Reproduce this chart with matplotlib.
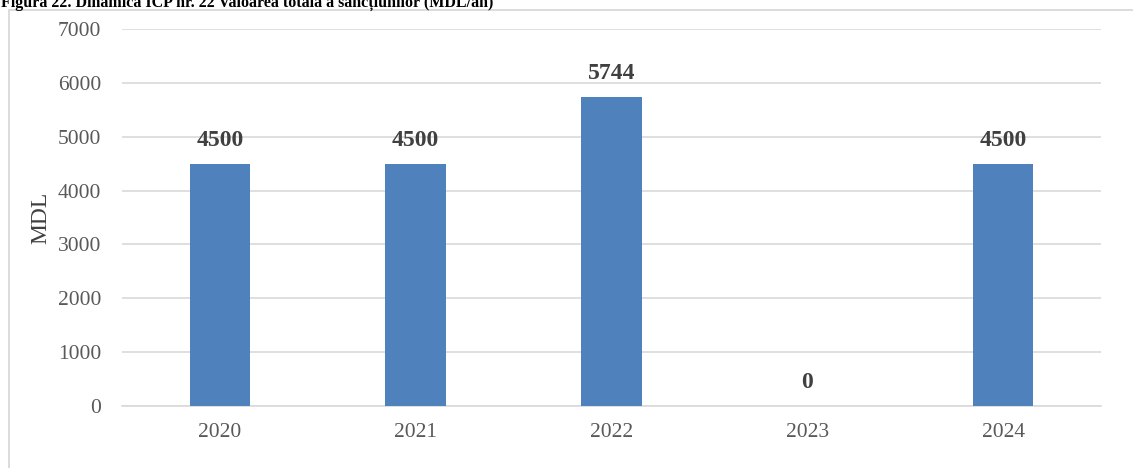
import matplotlib
matplotlib.use("Agg")
import matplotlib.pyplot as plt
import matplotlib.patches as patches

plt.rcParams['font.family'] = ['Liberation Serif', 'DejaVu Serif']

# values of indicator no. 22 per year
years = ["2020", "2021", "2022", "2023", "2024"]
amounts = [4500, 4500, 5744, 0, 4500]
y_ticks = [0, 1000, 2000, 3000, 4000, 5000, 6000, 7000]

W, H = 1133, 468
fig = plt.figure(figsize=(W / 100, H / 100), dpi=100)

# light frame around the chart area, running off the right and bottom edges
frame = patches.Rectangle((9 / W, -0.05), 1.2, (H - 10) / H + 0.05,
                          transform=fig.transFigure, fill=False,
                          edgecolor='#d9d9d9', linewidth=1.3)
fig.patches.append(frame)

ax = fig.add_axes([122 / W, 1 - 406 / H, (1101 - 122) / W, (406 - 29) / H])

bars = ax.bar(years, amounts, width=0.31, color='#4f81bd', zorder=3)
ax.bar_label(bars, padding=9, fontsize=17, fontweight='bold', color='#404040')

ax.set_ylim(0, 7000)
ax.set_xlim(-0.5, len(years) - 0.5)
ax.set_yticks(y_ticks)
ax.yaxis.grid(True, color='#d9d9d9', linewidth=1.2, zorder=0)
ax.tick_params(axis='both', length=0, labelsize=15.5, labelcolor='#595959')
ax.tick_params(axis='x', pad=12)
ax.tick_params(axis='y', pad=15)
for s in ['top', 'right', 'left']:
    ax.spines[s].set_visible(False)
ax.spines['bottom'].set_color('#d9d9d9')
ax.spines['bottom'].set_linewidth(1.2)
ax.set_ylabel("MDL", fontsize=17, color='#404040')
ax.yaxis.set_label_coords(-0.072, 0.5)

# caption at the top, partly cut off by the figure edge
fig.text(1 / W, 1 - 7 / H,
         "Figura 22. Dinamica ICP nr. 22 Valoarea totală a sancțiunilor (MDL/an)",
         fontsize=11.5, fontweight='bold', color='black',
         va='baseline', ha='left')

fig.savefig("out.png", dpi=100)
